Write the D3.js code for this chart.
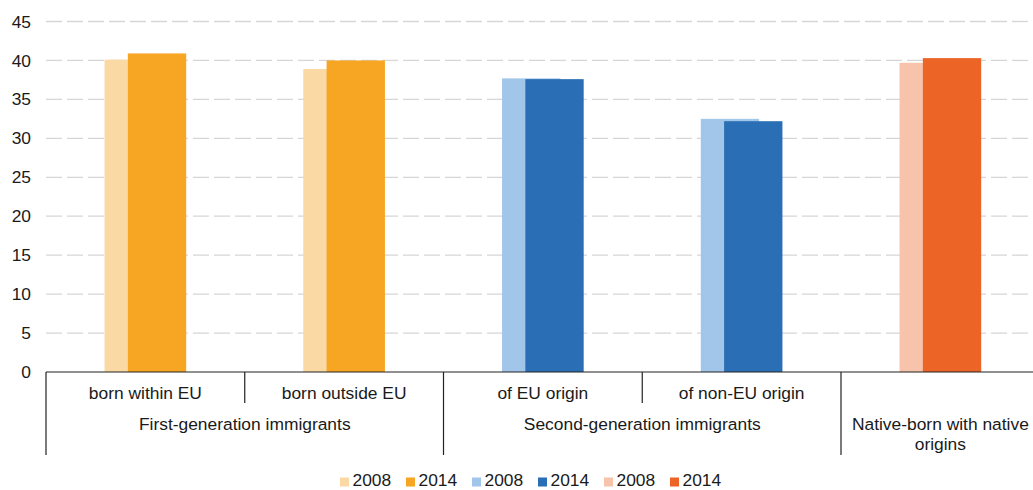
<!DOCTYPE html>
<html>
<head>
<meta charset="utf-8">
<script src="https://cdn.jsdelivr.net/npm/d3@7"></script>
<style>
  html, body { margin: 0; padding: 0; background: #fff; }
  svg { display: block; font-family: "Liberation Sans", Arial, sans-serif; }
</style>
</head>
<body>
<svg id="chart" width="1033" height="490"></svg>
<script>
// ---- data ----
const categories = ["born within EU", "born outside EU", "of EU origin", "of non-EU origin", "native"];
const subLabels = ["born within EU", "born outside EU", "of EU origin", "of non-EU origin", ""];
const groupLabels = [
  { lines: ["First-generation immigrants"], from: 0, to: 1 },
  { lines: ["Second-generation immigrants"], from: 2, to: 3 },
  { lines: ["Native-born with native", "origins"], from: 4, to: 4 }
];
const series = ["2008", "2014"];
const values2008 = [40.1, 38.9, 37.7, 32.5, 39.7];
const values2014 = [40.9, 40.0, 37.6, 32.2, 40.3];
const yTicks = [0, 5, 10, 15, 20, 25, 30, 35, 40, 45];
const colors2008 = ["#FBD9A5", "#FBD9A5", "#A2C6EA", "#A2C6EA", "#F8C3AB"];
const colors2014 = ["#F6A623", "#F6A623", "#2A6FB5", "#2A6FB5", "#EC6527"];
const legendItems = [
  { label: "2008", color: "#FBD9A5" }, { label: "2014", color: "#F6A623" },
  { label: "2008", color: "#A2C6EA" }, { label: "2014", color: "#2A6FB5" },
  { label: "2008", color: "#F8C3AB" }, { label: "2014", color: "#EC6527" }
];

// ---- layout ----
const svg = d3.select("#chart");
const left = 46, right = 1039.75, y0px = 372, yTopPx = 21.5;
const textColor = "#1a1a1a";
const fs = 17.4;

const x = d3.scaleBand().domain(categories).range([left, right]).padding(0);
const y = d3.scaleLinear().domain([0, 45]).range([y0px, yTopPx]);
const bw = x.bandwidth();
const barW = bw * 0.2935;
const sx = d3.scaleOrdinal().domain(series).range([-bw * 0.2055, -bw * 0.0882]);

// gridlines
svg.append("g").selectAll("line").data(yTicks.filter(t => t > 0)).join("line")
  .attr("x1", left).attr("x2", 1033)
  .attr("y1", d => y(d)).attr("y2", d => y(d))
  .attr("stroke", "#d6d6d6").attr("stroke-width", 1.3)
  .attr("stroke-dasharray", "16,5");

// y tick labels
svg.append("g").selectAll("text").data(yTicks).join("text")
  .attr("x", 31).attr("y", d => y(d)).attr("dy", "0.35em")
  .attr("text-anchor", "end").attr("font-size", fs).attr("fill", textColor)
  .text(d => d);

// bars
const bars = svg.append("g");
const rows = categories.map((c, i) => ({ c, i, v08: values2008[i], v14: values2014[i] }));
bars.selectAll("rect.b08").data(rows).join("rect").attr("class", "b08")
  .attr("x", d => x(d.c) + bw / 2 + sx("2008"))
  .attr("width", barW)
  .attr("y", d => y(d.v08)).attr("height", d => y(0) - y(d.v08))
  .attr("fill", d => colors2008[d.i]);
bars.selectAll("rect.b14").data(rows).join("rect").attr("class", "b14")
  .attr("x", d => x(d.c) + bw / 2 + sx("2014"))
  .attr("width", barW)
  .attr("y", d => y(d.v14)).attr("height", d => y(0) - y(d.v14))
  .attr("fill", d => colors2014[d.i]);

// x axis line
svg.append("line").attr("x1", left).attr("x2", 1033)
  .attr("y1", y0px).attr("y2", y0px).attr("stroke", "#222").attr("stroke-width", 1.2);

// dividers
const axisG = svg.append("g");
groupLabels.forEach(g => {
  for (let k = g.from + 1; k <= g.to; k++) {
    axisG.append("line").attr("x1", x(categories[k])).attr("x2", x(categories[k]))
      .attr("y1", y0px).attr("y2", 403).attr("stroke", "#222").attr("stroke-width", 1.2);
  }
  axisG.append("line").attr("x1", x(categories[g.from])).attr("x2", x(categories[g.from]))
    .attr("y1", y0px).attr("y2", 455).attr("stroke", "#222").attr("stroke-width", 1.2);
});

// sub labels
axisG.selectAll("text.sub").data(categories).join("text").attr("class", "sub")
  .attr("x", d => x(d) + bw / 2).attr("y", 399)
  .attr("text-anchor", "middle").attr("font-size", fs).attr("fill", textColor)
  .text((d, i) => subLabels[i]);

// group labels
groupLabels.forEach(g => {
  const cx = (x(categories[g.from]) + x(categories[g.to]) + bw) / 2;
  const t = axisG.append("text").attr("text-anchor", "middle")
    .attr("font-size", fs).attr("fill", textColor);
  g.lines.forEach((ln, j) => {
    t.append("tspan").attr("x", cx).attr("y", 430 + j * 20).text(ln);
  });
});

// legend
const lg = svg.append("g");
const legendX = d3.scalePoint().domain(d3.range(legendItems.length)).range([340, 670]);
legendItems.forEach((it, i) => {
  const lx = legendX(i);
  lg.append("rect").attr("x", lx).attr("y", 477.5).attr("width", 9).attr("height", 9).attr("fill", it.color);
  lg.append("text").attr("x", lx + 12.5).attr("y", 486.3).attr("font-size", fs)
    .attr("fill", textColor).text(it.label);
});
</script>
</body>
</html>
